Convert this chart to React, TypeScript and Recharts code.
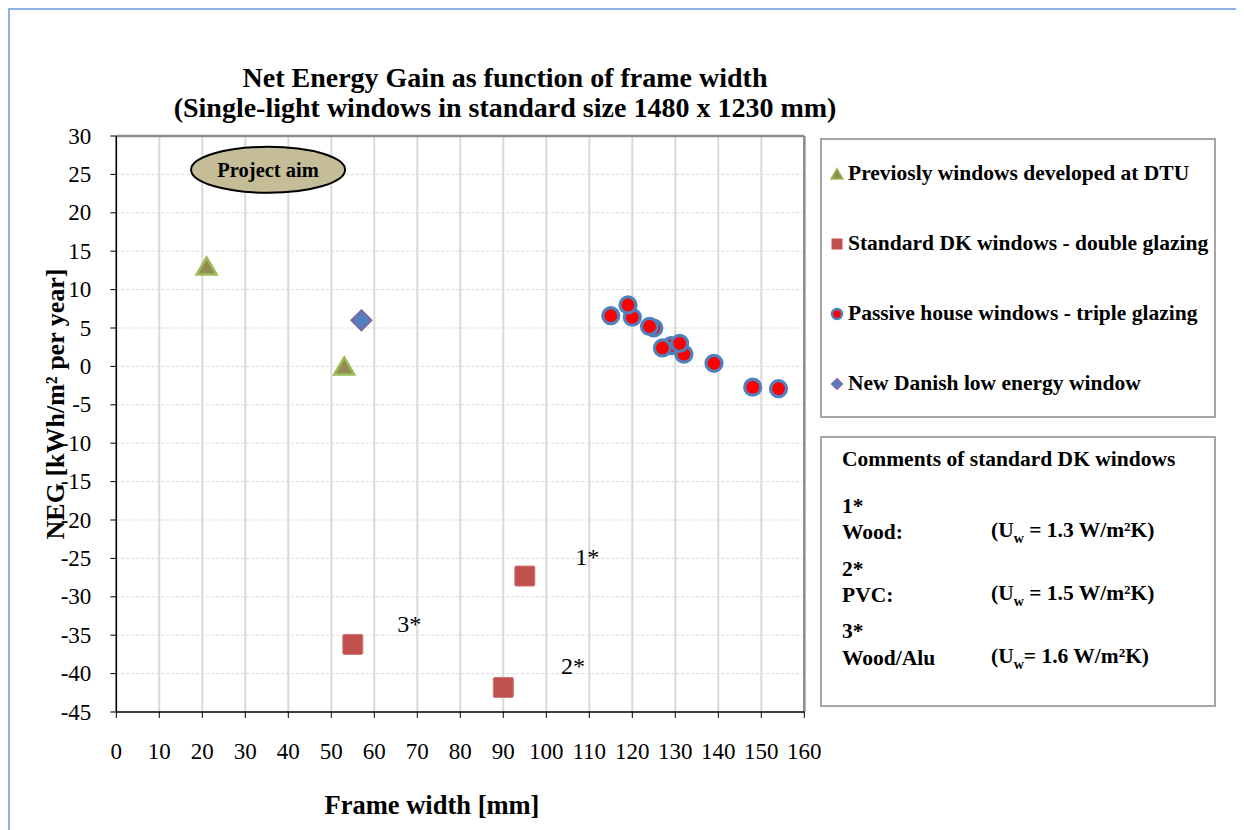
import React from 'react';
import {
  ScatterChart,
  Scatter,
  XAxis,
  YAxis,
  CartesianGrid,
  ReferenceLine,
} from 'recharts';

const FONT = '"Liberation Serif", "Times New Roman", serif';

// Axis ticks
const xTicks = [0, 10, 20, 30, 40, 50, 60, 70, 80, 90, 100, 110, 120, 130, 140, 150, 160];
const yTicks = [30, 25, 20, 15, 10, 5, 0, -5, -10, -15, -20, -25, -30, -35, -40, -45];

// Series values (frame width [mm], NEG [kWh/m2 per year])
const dtuX = [21, 53];
const dtuY = [13, 0];

const stdX = [95, 90, 55];
const stdY = [-27.3, -41.8, -36.2];

const passiveX = [115, 120, 119, 125, 124, 132, 129, 127, 131, 139, 148, 154];
const passiveY = [6.6, 6.4, 8.0, 5.0, 5.2, 1.6, 2.7, 2.4, 3.0, 0.4, -2.7, -2.9];

const newX = [57];
const newY = [6];

// Annotations inside the plot
const noteText = ['1*', '2*', '3*'];
const noteX = [109.5, 106.2, 68.1];
const noteY = [-24.8, -39, -33.5];

const aimText = ['Project aim'];
const aimX = [35.3];
const aimY = [25.6];

const seriesNames = [
  'Previosly windows developed at DTU',
  'Standard DK windows - double glazing',
  'Passive house windows - triple glazing',
  'New Danish low energy window',
];

const toPoints = (xs: number[], ys: number[]) => xs.map((x, i) => ({ x, y: ys[i] }));

// Marker shapes
const TriangleMark = (p: any) => {
  const { cx, cy } = p;
  return (
    <polygon
      points={`${cx},${cy - 9} ${cx + 10},${cy + 8} ${cx - 10},${cy + 8}`}
      fill="#948a54"
      stroke="#9bbb59"
      strokeWidth={2.5}
    />
  );
};

const SquareMark = (p: any) => {
  const { cx, cy } = p;
  return (
    <rect x={cx - 10} y={cy - 10} width={20} height={20} rx={1.5} fill="#c0504d" stroke="#d07572" strokeWidth={1} />
  );
};

const CircleMark = (p: any) => {
  const { cx, cy } = p;
  return <circle cx={cx} cy={cy} r={8} fill="#ff0000" stroke="#4f81bd" strokeWidth={3.2} />;
};

const DiamondMark = (p: any) => {
  const { cx, cy } = p;
  return (
    <polygon
      points={`${cx},${cy - 10} ${cx + 10},${cy} ${cx},${cy + 10} ${cx - 10},${cy}`}
      fill="#4f81bd"
      stroke="#8064a2"
      strokeWidth={2}
    />
  );
};

const NoteMark = (p: any) => {
  const { cx, cy, payload } = p;
  return (
    <text x={cx} y={cy} textAnchor="middle" dominantBaseline="central" style={{ fontFamily: FONT, fontSize: 24 }} fill="#000">
      {payload.label}
    </text>
  );
};

const AimMark = (p: any) => {
  const { cx, cy, payload } = p;
  return (
    <g>
      <ellipse cx={cx} cy={cy} rx={77} ry={23} fill="#c4bd97" stroke="#000" strokeWidth={2} />
      <text
        x={cx}
        y={cy}
        textAnchor="middle"
        dominantBaseline="central"
        style={{ fontFamily: FONT, fontSize: 20.5, fontWeight: 'bold' }}
        fill="#000"
      >
        {payload.label}
      </text>
    </g>
  );
};

// Tick labels in Times-like serif
const XTick = (p: any) => {
  const { x, y, payload } = p;
  return (
    <text x={x} y={y + 31} textAnchor="middle" dominantBaseline="central" style={{ fontFamily: FONT, fontSize: 23 }} fill="#000">
      {payload.value}
    </text>
  );
};

const YTick = (p: any) => {
  const { x, y, payload } = p;
  return (
    <text x={x - 17} y={y} textAnchor="end" dominantBaseline="central" style={{ fontFamily: FONT, fontSize: 23 }} fill="#000">
      {payload.value}
    </text>
  );
};

// Small legend icons
const LegendIcon = ({ idx }: { idx: number }) => (
  <svg width={14} height={14} viewBox="0 0 14 14">
    {idx === 0 && <polygon points="7,1.5 13,12 1,12" fill="#948a54" stroke="#9bbb59" strokeWidth={1.5} />}
    {idx === 1 && <rect x={1.5} y={1.5} width={11} height={11} fill="#c0504d" />}
    {idx === 2 && <circle cx={7} cy={7} r={5} fill="#ff0000" stroke="#4f81bd" strokeWidth={2.4} />}
    {idx === 3 && <polygon points="7,1.5 12.5,7 7,12.5 1.5,7" fill="#4f81bd" stroke="#8064a2" strokeWidth={1.2} />}
  </svg>
);

const Txt = ({
  x,
  y,
  size,
  bold,
  anchor = 'middle',
  rotate,
  children,
}: {
  x: number;
  y: number;
  size: number;
  bold?: boolean;
  anchor?: 'middle' | 'start';
  rotate?: number;
  children: React.ReactNode;
}) => (
  <div
    style={{
      position: 'absolute',
      left: x,
      top: y,
      transform: `translate(${anchor === 'middle' ? '-50%' : '0'}, -50%)${rotate ? ` rotate(${rotate}deg)` : ''}`,
      fontFamily: FONT,
      fontSize: size,
      fontWeight: bold ? 'bold' : 'normal',
      whiteSpace: 'nowrap',
      lineHeight: 1,
      color: '#000',
    }}
  >
    {children}
  </div>
);

const legendRowsY = [166, 236, 306, 376];

export default function App() {
  return (
    <div style={{ position: 'relative', width: 1236, height: 822, overflow: 'hidden', background: '#fff' }}>
      {/* outer frame */}
      <div
        style={{
          position: 'absolute',
          left: 0,
          top: 0,
          width: 1400,
          height: 1000,
          border: '2px solid #8db3e2',
        }}
      />

      <div style={{ position: 'absolute', left: 0, top: 0 }}>
        <ScatterChart
          width={1236}
          height={822}
          margin={{ top: 128, right: 439.7, bottom: 78, left: 48.3 }}
          style={{ fontFamily: FONT }}
        >
          <CartesianGrid horizontal={false} stroke="#d9d9d9" strokeWidth={2} />
          <CartesianGrid vertical={false} stroke="#d9d9d9" strokeDasharray="3 2" strokeWidth={1} />
          <XAxis
            type="number"
            dataKey="x"
            domain={[0, 160]}
            ticks={xTicks}
            interval={0}
            tick={<XTick />}
            tickSize={6}
            height={40}
            axisLine={{ stroke: '#000', strokeWidth: 1.5 }}
            tickLine={{ stroke: '#000' }}
            allowDataOverflow
          />
          <YAxis
            type="number"
            dataKey="y"
            domain={[-45, 30]}
            ticks={yTicks}
            interval={0}
            tick={<YTick />}
            tickSize={6}
            width={60}
            axisLine={{ stroke: '#000', strokeWidth: 1.5 }}
            tickLine={{ stroke: '#000' }}
            allowDataOverflow
          />
          <ReferenceLine y={30} stroke="#8c8c8c" strokeWidth={2.5} />
          <ReferenceLine x={160} stroke="#8c8c8c" strokeWidth={2.5} />
          <Scatter
            name="aim"
            data={aimX.map((x, i) => ({ x, y: aimY[i], label: aimText[i] }))}
            shape={AimMark}
            isAnimationActive={false}
          />
          <Scatter name={seriesNames[0]} data={toPoints(dtuX, dtuY)} shape={TriangleMark} isAnimationActive={false} />
          <Scatter name={seriesNames[1]} data={toPoints(stdX, stdY)} shape={SquareMark} isAnimationActive={false} />
          <Scatter name={seriesNames[2]} data={toPoints(passiveX, passiveY)} shape={CircleMark} isAnimationActive={false} />
          <Scatter name={seriesNames[3]} data={toPoints(newX, newY)} shape={DiamondMark} isAnimationActive={false} />
          <Scatter
            name="notes"
            data={noteX.map((x, i) => ({ x, y: noteY[i], label: noteText[i] }))}
            shape={NoteMark}
            isAnimationActive={false}
          />
        </ScatterChart>
      </div>

      {/* titles */}
      <Txt x={497} y={70} size={28} bold>
        Net Energy Gain as function of frame width
      </Txt>
      <Txt x={497} y={100} size={28} bold>
        (Single-light windows in standard size 1480 x 1230 mm)
      </Txt>
      <Txt x={424} y={797} size={26.5} bold>
        Frame width [mm]
      </Txt>
      <Txt x={48} y={396} size={26} bold rotate={-90}>
        NEG [kWh/m² per year]
      </Txt>

      {/* legend box */}
      <div
        style={{
          position: 'absolute',
          left: 812,
          top: 130,
          width: 396,
          height: 280,
          boxSizing: 'border-box',
          border: '2px solid #a6a6a6',
        }}
      />
      {seriesNames.map((name, i) => (
        <React.Fragment key={name}>
          <div style={{ position: 'absolute', left: 822, top: legendRowsY[i] - 7, width: 14, height: 14 }}>
            <LegendIcon idx={i} />
          </div>
          <Txt x={840} y={legendRowsY[i]} size={21.5} bold anchor="start">
            {name}
          </Txt>
        </React.Fragment>
      ))}

      {/* comments box */}
      <div
        style={{
          position: 'absolute',
          left: 812,
          top: 428,
          width: 396,
          height: 271,
          boxSizing: 'border-box',
          border: '2px solid #a6a6a6',
        }}
      />
      <Txt x={834} y={452} size={21.5} bold anchor="start">
        Comments of standard DK windows
      </Txt>
      <Txt x={834} y={499} size={21.5} bold anchor="start">1*</Txt>
      <Txt x={834} y={525} size={21.5} bold anchor="start">Wood:</Txt>
      <Txt x={983} y={525} size={21.5} bold anchor="start">
        (U<sub style={{ fontSize: 14 }}>w</sub> = 1.3 W/m²K)
      </Txt>
      <Txt x={834} y={562} size={21.5} bold anchor="start">2*</Txt>
      <Txt x={834} y={588} size={21.5} bold anchor="start">PVC:</Txt>
      <Txt x={983} y={588} size={21.5} bold anchor="start">
        (U<sub style={{ fontSize: 14 }}>w</sub> = 1.5 W/m²K)
      </Txt>
      <Txt x={834} y={624} size={21.5} bold anchor="start">3*</Txt>
      <Txt x={834} y={651} size={21.5} bold anchor="start">Wood/Alu</Txt>
      <Txt x={983} y={651} size={21.5} bold anchor="start">
        (U<sub style={{ fontSize: 14 }}>w</sub>= 1.6 W/m²K)
      </Txt>
    </div>
  );
}
